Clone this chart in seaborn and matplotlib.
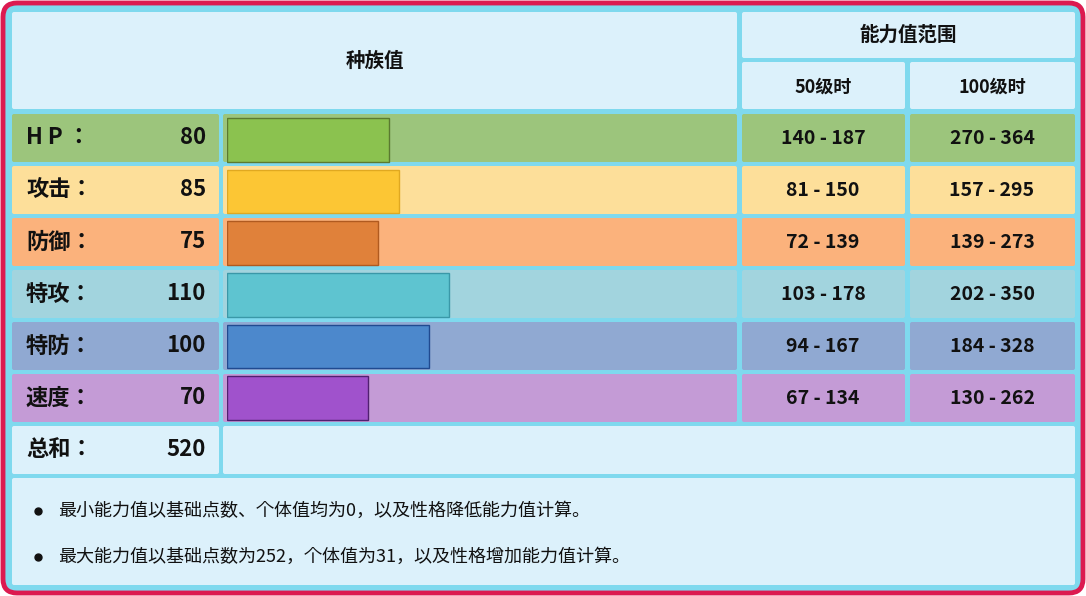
import matplotlib
matplotlib.use("Agg")
import matplotlib.pyplot as plt
import pandas as pd
import seaborn as sns
from matplotlib.patches import FancyBboxPatch
from matplotlib import font_manager

cjk = [f.name for f in font_manager.fontManager.ttflist if "CJK" in f.name]
plt.rcParams["font.family"] = ["Noto Sans CJK SC", "Noto Sans CJK JP"] + cjk + ["DejaVu Sans"]

stat_names = ["H P ：", "攻击：", "防御：", "特攻：", "特防：", "速度："]
base_stats = [80, 85, 75, 110, 100, 70]
range_50 = ["140 - 187", "81 - 150", "72 - 139", "103 - 178", "94 - 167", "67 - 134"]
range_100 = ["270 - 364", "157 - 295", "139 - 273", "202 - 350", "184 - 328", "130 - 262"]
total_label = "总和："
total_value = 520
notes = ["最小能力值以基础点数、个体值均为0，以及性格降低能力值计算。",
         "最大能力值以基础点数为252，个体值为31，以及性格增加能力值计算。"]

row_colors = ["#9cc57c", "#fddf9a", "#fbb27c", "#a2d4de", "#90a9d2", "#c49bd6"]
bar_colors = ["#8bc24f", "#fcc634", "#e0813a", "#5ec4d0", "#4c88cc", "#a052cc"]
edge_colors = ["#5a7a30", "#e0a820", "#b05a20", "#3a98a8", "#204a90", "#502070"]

W, H = 1086, 596
fig = plt.figure(figsize=(W / 100, H / 100), dpi=100)
ax = fig.add_axes([0, 0, 1, 1])
ax.set_xlim(0, W)
ax.set_ylim(H, 0)
ax.axis("off")


def box(x0, y0, x1, y1, fc, ec="none", lw=0, r=2, z=1):
    ax.add_patch(FancyBboxPatch((x0, y0), x1 - x0, y1 - y0,
                                boxstyle=f"round,pad=0,rounding_size={r}",
                                fc=fc, ec=ec, lw=lw, zorder=z))


# outer frame
box(3, 3, 1083, 593, "#7fd9ee", ec="#dc1a50", lw=3.5, r=14, z=0)
light = "#dcf1fb"
bold = dict(fontweight="bold", color="#111111")

# header
box(12, 12, 737, 109, light)
ax.text(375, 61, "种族值", ha="center", va="center", fontsize=14, **bold)
box(742, 12, 1075, 58, light)
ax.text(908, 35, "能力值范围", ha="center", va="center", fontsize=14, **bold)
box(742, 62, 905, 109, light)
ax.text(823, 87, "50级时", ha="center", va="center", fontsize=13, **bold)
box(910, 62, 1075, 109, light)
ax.text(992, 87, "100级时", ha="center", va="center", fontsize=13, **bold)

row_h = 52
top = 114
for i, name in enumerate(stat_names):
    y0 = top + i * row_h
    y1 = y0 + row_h - 4
    yc = (y0 + y1) / 2
    c = row_colors[i]
    box(12, y0, 219, y1, c)
    box(223, y0, 737, y1, c)
    box(742, y0, 905, y1, c)
    box(910, y0, 1075, y1, c)
    ax.text(26, yc, name, ha="left", va="center", fontsize=16, **bold)
    ax.text(206, yc, str(base_stats[i]), ha="right", va="center", fontsize=16, **bold)
    ax.text(823, yc, range_50[i], ha="center", va="center", fontsize=14, **bold)
    ax.text(992, yc, range_100[i], ha="center", va="center", fontsize=14, **bold)

# total row
y0 = top + 6 * row_h
y1 = y0 + row_h - 4
box(12, y0, 219, y1, light)
box(223, y0, 1075, y1, light)
ax.text(26, (y0 + y1) / 2, total_label, ha="left", va="center", fontsize=16, **bold)
ax.text(206, (y0 + y1) / 2, str(total_value), ha="right", va="center", fontsize=16, **bold)

# notes
box(12, y1 + 4, 1075, 585, light)
for j, note in enumerate(notes):
    yy = 511 + j * 46
    ax.plot(38, yy, "o", color="#111111", ms=5)
    ax.text(58, yy, note, ha="left", va="center", fontsize=13, color="#111111")

# bars through seaborn
bx0, bx1 = 227, 737
by0, by1 = top, top + 6 * row_h - 4
bax = fig.add_axes([bx0 / W, 1 - (by1 + 2) / H, (bx1 - bx0) / W, (by1 + 2 - by0) / H])
df = pd.DataFrame({"stat": stat_names, "value": base_stats})
sns.barplot(data=df, x="value", y="stat", hue="stat", palette=bar_colors,
            orient="h", width=0.84, saturation=1, legend=False, ax=bax)
for p, ec in zip(bax.patches, edge_colors):
    p.set_edgecolor(ec)
    p.set_linewidth(1)
bax.set_xlim(0, 252.5)
bax.set_ylim(5.5, -0.5)
bax.axis("off")
bax.patch.set_alpha(0)

fig.savefig("out.png", dpi=100)
